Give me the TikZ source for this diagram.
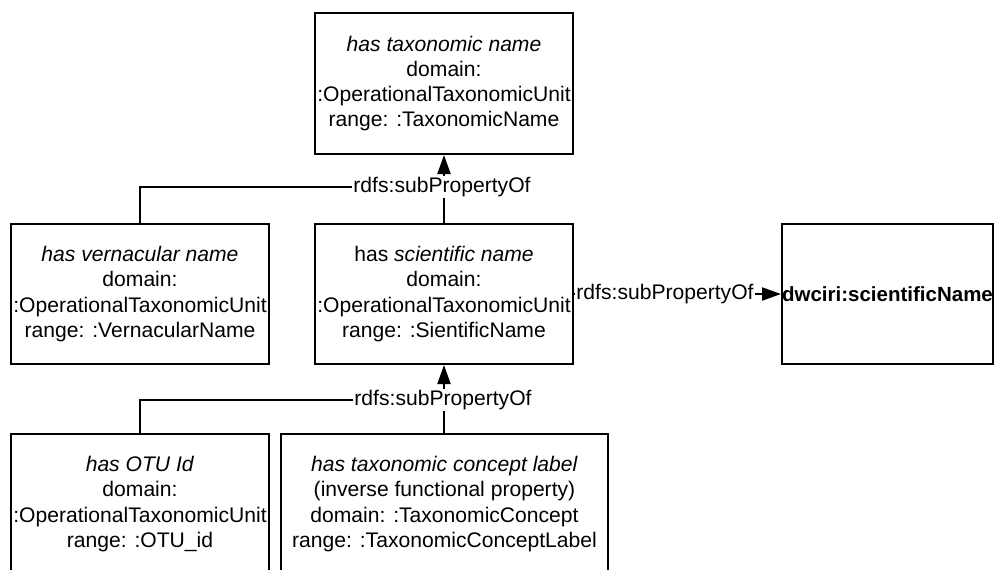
\documentclass[tikz,border=0pt]{standalone}
\usepackage{fontspec}
\setmainfont{Liberation Sans}
\usetikzlibrary{arrows.meta}
\begin{document}
\begin{tikzpicture}[x=1pt,y=-1pt,
  propbox/.style={draw, line width=2pt, inner sep=0pt, align=center,
    font=\fontsize{21.1}{25.3}\selectfont},
  lbl/.style={fill=white, inner sep=1pt, font=\fontsize{21.1}{25.3}\selectfont},
  conn/.style={line width=2pt},
  arr/.style={line width=2pt, -{Triangle[length=19pt,width=13pt]}}]
\useasboundingbox (0,0) rectangle (997,570);
\clip (0,0) rectangle (997,570);
\node[propbox, minimum width=258pt, minimum height=141pt] (top) at (444,83.5)
  {\textit{has taxonomic name}\\domain:\\:OperationalTaxonomicUnit\\range: :TaxonomicName};
\node[propbox, minimum width=258pt, minimum height=140pt] (vern) at (140,294)
  {\textit{has vernacular name}\\domain:\\:OperationalTaxonomicUnit\\range: :VernacularName};
\node[propbox, minimum width=258pt, minimum height=140pt] (sci) at (444,294)
  {has \textit{scientific name}\\domain:\\:OperationalTaxonomicUnit\\range: :SientificName};
\node[propbox, minimum width=211pt, minimum height=140pt,
  font=\fontsize{20.5}{25.3}\selectfont] (dw) at (887.5,294)
  {\textbf{dwciri:scientificName}};
\node[propbox, minimum width=258pt, minimum height=140pt] (otu) at (140,504)
  {\textit{has OTU Id}\\domain:\\:OperationalTaxonomicUnit\\range: :OTU\_id};
\node[propbox, minimum width=327pt, minimum height=140pt] (concept) at (444.5,504)
  {\textit{has taxonomic concept label}\\(inverse functional property)\\domain: :TaxonomicConcept\\range: :TaxonomicConceptLabel};
% labels
\node[lbl] (l1) at (442,187) {rdfs:subPropertyOf};
\node[lbl] (l2) at (443,400) {rdfs:subPropertyOf};
\node[lbl] (l3) at (665,294) {rdfs:subPropertyOf};
% connectors, upper group
\draw[conn] (vern.north) |- (l1.west);
\draw[conn] (sci.north) -- (sci.north |- l1.south);
\draw[arr] (sci.north |- l1.north) -- (top.south);
% connectors, lower group
\draw[conn] (otu.north) |- (l2.west);
\draw[conn] (sci.south |- concept.north) -- (sci.south |- l2.south);
\draw[arr] (sci.south |- l2.north) -- (sci.south);
% right connector
\draw[conn] (sci.east) -- (l3.west);
\draw[arr] (l3.east) -- (dw.west);
\end{tikzpicture}
\end{document}
